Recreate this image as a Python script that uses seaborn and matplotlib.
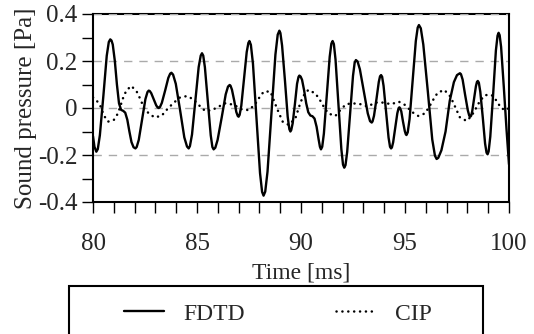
import numpy as np
import pandas as pd
import matplotlib
matplotlib.use("Agg")
import matplotlib.pyplot as plt
from matplotlib.patches import Rectangle
from matplotlib.lines import Line2D
import seaborn as sns

# FDTD waveform (time in ms, pressure in Pa)
fdtd_t = [80.0, 80.07, 80.16, 80.23, 80.33, 80.5, 80.66, 80.76,
          80.83, 80.89, 80.95, 81.05, 81.15, 81.25, 81.35, 81.45,
          81.55, 81.65, 81.75, 81.85, 81.95, 82.04, 82.1, 82.2,
          82.36, 82.52, 82.62, 82.68, 82.73, 82.8, 82.92, 83.04,
          83.11, 83.16, 83.22, 83.31, 83.47, 83.62, 83.71, 83.77,
          83.85, 83.98, 84.19, 84.39, 84.52, 84.6, 84.66, 84.76,
          84.92, 85.08, 85.18, 85.24, 85.3, 85.38, 85.52, 85.66,
          85.74, 85.8, 85.88, 85.99, 86.19, 86.38, 86.49, 86.57,
          86.61, 86.68, 86.79, 86.89, 86.96, 87.0, 87.05, 87.13,
          87.26, 87.39, 87.47, 87.52, 87.59, 87.69, 87.86, 88.03,
          88.13, 88.2, 88.28, 88.39, 88.58, 88.77, 88.88, 88.96,
          89.01, 89.09, 89.23, 89.36, 89.44, 89.49, 89.53, 89.6,
          89.71, 89.81, 89.88, 89.92, 89.98, 90.05, 90.15, 90.25,
          90.35, 90.45, 90.55, 90.65, 90.75, 90.85, 90.91, 90.96,
          91.02, 91.1, 91.24, 91.38, 91.46, 91.52, 91.58, 91.66,
          91.8, 91.94, 92.02, 92.08, 92.14, 92.22, 92.36, 92.5,
          92.58, 92.64, 92.72, 92.83, 93.02, 93.21, 93.32, 93.4,
          93.44, 93.51, 93.63, 93.74, 93.8, 93.85, 93.9, 93.97,
          94.09, 94.21, 94.28, 94.33, 94.37, 94.43, 94.53, 94.63,
          94.69, 94.73, 94.76, 94.82, 94.9, 94.99, 95.04, 95.07,
          95.13, 95.22, 95.37, 95.52, 95.61, 95.67, 95.76, 95.88,
          96.1, 96.31, 96.44, 96.52, 96.6, 96.75, 96.95, 97.15,
          97.35, 97.5, 97.64, 97.69, 97.77, 97.89, 98.02, 98.09,
          98.14, 98.18, 98.23, 98.32, 98.41, 98.46, 98.5, 98.55,
          98.62, 98.74, 98.85, 98.92, 98.97, 99.02, 99.1, 99.24,
          99.37, 99.45, 99.5, 99.55, 99.62, 99.75, 99.88, 100.0]
fdtd_p = [-0.12, -0.165, -0.186, -0.175, -0.116, 0.053, 0.222, 0.281,
          0.292, 0.287, 0.27, 0.2, 0.1, 0.02, -0.008, -0.012,
          -0.02, -0.05, -0.1, -0.145, -0.167, -0.172, -0.166, -0.136,
          -0.049, 0.038, 0.068, 0.074, 0.072, 0.063, 0.037, 0.011,
          0.002, 0.0, 0.004, 0.022, 0.075, 0.128, 0.146, 0.15,
          0.142, 0.103, -0.011, -0.125, -0.164, -0.172, -0.162, -0.113,
          0.031, 0.174, 0.223, 0.233, 0.223, 0.173, 0.029, -0.116,
          -0.166, -0.176, -0.169, -0.136, -0.039, 0.058, 0.091, 0.098,
          0.095, 0.078, 0.031, -0.017, -0.034, -0.037, -0.029, 0.01,
          0.124, 0.238, 0.277, 0.285, 0.269, 0.189, -0.044, -0.277,
          -0.357, -0.373, -0.356, -0.271, -0.022, 0.227, 0.312, 0.329,
          0.319, 0.266, 0.115, -0.037, -0.09, -0.1, -0.094, -0.065,
          0.019, 0.103, 0.132, 0.138, 0.134, 0.12, 0.075, 0.02,
          -0.018, -0.032, -0.035, -0.045, -0.08, -0.135, -0.165, -0.176,
          -0.165, -0.109, 0.055, 0.218, 0.274, 0.285, 0.272, 0.206,
          0.016, -0.175, -0.241, -0.254, -0.243, -0.187, -0.025, 0.137,
          0.193, 0.204, 0.198, 0.165, 0.071, -0.023, -0.056, -0.062,
          -0.057, -0.033, 0.039, 0.111, 0.135, 0.14, 0.133, 0.094,
          -0.016, -0.126, -0.165, -0.172, -0.168, -0.146, -0.085, -0.023,
          -0.001, 0.003, 0.0, -0.014, -0.056, -0.098, -0.112, -0.115,
          -0.104, -0.047, 0.119, 0.285, 0.342, 0.353, 0.339, 0.27,
          0.068, -0.134, -0.203, -0.217, -0.212, -0.18, -0.1, 0.03,
          0.11, 0.14, 0.148, 0.144, 0.121, 0.056, -0.01, -0.033,
          -0.037, -0.033, -0.015, 0.039, 0.093, 0.111, 0.115, 0.108,
          0.069, -0.041, -0.151, -0.19, -0.197, -0.185, -0.122, 0.062,
          0.245, 0.308, 0.32, 0.31, 0.26, 0.09, -0.09, -0.24]

# CIP waveform
cip_t = [80.0, 80.16, 80.37, 80.51, 80.72, 81.0, 81.2, 81.44, 81.6, 81.84, 82.1, 82.28,
         82.45, 82.68, 82.96, 83.3, 83.56, 83.85, 84.17, 84.52, 84.82, 85.16, 85.4,
         85.72, 86.04, 86.36, 86.76, 87.16, 87.48, 87.77, 87.97, 88.21, 88.53, 88.81,
         88.96, 89.12, 89.41, 89.73, 89.97, 90.11, 90.35, 90.69, 90.91, 91.09, 91.31,
         91.65, 91.89, 92.16, 92.48, 92.88, 93.2, 93.57, 93.96, 94.33, 94.7, 95.0,
         95.32, 95.64, 95.96, 96.17, 96.37, 96.57, 96.89, 97.16, 97.32, 97.48, 97.64,
         97.96, 98.2, 98.41, 98.61, 98.85, 99.17, 99.41, 99.62, 99.86, 100.0]
cip_p = [0.045, 0.034, 0.006, -0.03, -0.058, -0.051, -0.023, 0.041, 0.074, 0.094, 0.07, 0.037,
         0.0, -0.023, -0.04, -0.033, -0.006, 0.02, 0.044, 0.051, 0.037, 0.006, -0.013,
         -0.009, 0.006, 0.02, 0.014, -0.006, -0.009, 0.013, 0.041, 0.07, 0.07, 0.006,
         -0.026, -0.058, -0.072, -0.044, 0.022, 0.051, 0.077, 0.062, 0.034, 0.006, -0.023,
         -0.034, -0.009, 0.016, 0.02, 0.016, 0.006, 0.023, 0.023, 0.016, 0.027, 0.013,
         -0.016, -0.034, -0.023, 0.006, 0.037, 0.065, 0.077, 0.051, 0.023, -0.009, -0.04,
         -0.055, -0.034, -0.001, 0.031, 0.055, 0.055, 0.03, -0.001, -0.009, 0.0]

x_ticks = [80, 85, 90, 95, 100]
y_ticks = [-0.4, -0.2, 0, 0.2, 0.4]
y_labels = ["-0.4", "-0.2", "0", "0.2", "0.4"]

sns.set_style("ticks")
plt.rcParams["font.family"] = ["Liberation Serif", "DejaVu Serif"]

dotted = (0, (0.05, 2.3))

fig = plt.figure(figsize=(5.34, 3.34), dpi=100)
ax = fig.add_axes([93 / 534, 1 - 202 / 334, 416 / 534, 188 / 334])

df_fdtd = pd.DataFrame({"t": fdtd_t, "p": fdtd_p})
df_cip = pd.DataFrame({"t": cip_t, "p": cip_p})
sns.lineplot(data=df_fdtd, x="t", y="p", ax=ax, color="black", lw=1.7,
             solid_joinstyle="round", zorder=4)
sns.lineplot(data=df_cip, x="t", y="p", ax=ax, color="black", lw=1.8,
             linestyle=dotted, dash_capstyle="round", zorder=3)

ax.set_xlim(80, 100)
ax.set_ylim(-0.4, 0.4)
ax.set_xticks(x_ticks)
ax.set_xticks(np.arange(80, 101, 1), minor=True)
ax.set_yticks(y_ticks)
ax.set_yticklabels(y_labels)
ax.set_yticks([-0.3, -0.1, 0.1, 0.3], minor=True)
ax.tick_params(axis="both", which="both", direction="out", color="black", width=1.0)
ax.tick_params(axis="x", which="both", length=8, pad=14, labelsize=18)
ax.tick_params(axis="y", which="both", length=8, pad=3, labelsize=18)

ax.yaxis.grid(True, which="major", color="#aaaaaa", linestyle=(0, (6, 5)), lw=1.0)
ax.set_axisbelow(True)
for side in ["left", "right", "bottom", "top"]:
    ax.spines[side].set_visible(True)
    ax.spines[side].set_color("black")
    ax.spines[side].set_linewidth(1.5)
ax.spines["top"].set_zorder(0.4)

ax.set_xlabel("Time [ms]", fontsize=17, labelpad=6)
ax.set_ylabel("Sound pressure [Pa]", fontsize=18, labelpad=1)

# legend box running off the bottom edge
fig.patches.append(Rectangle((69 / 534, 1 - 345 / 334), 414 / 534, 59 / 334,
                             transform=fig.transFigure, fill=False,
                             edgecolor="black", lw=1.5))
handles = [Line2D([], [], color="black", lw=1.7),
           Line2D([], [], color="black", lw=1.8, linestyle=dotted, dash_capstyle="round")]
fig.legend(handles, ["FDTD", "CIP"], ncol=2, frameon=False, fontsize=17,
           loc="center left", bbox_to_anchor=(103 / 534, 1 - 314 / 334),
           handlelength=1.7, handletextpad=0.8, columnspacing=3.85)

fig.savefig("out.png", dpi=100)
